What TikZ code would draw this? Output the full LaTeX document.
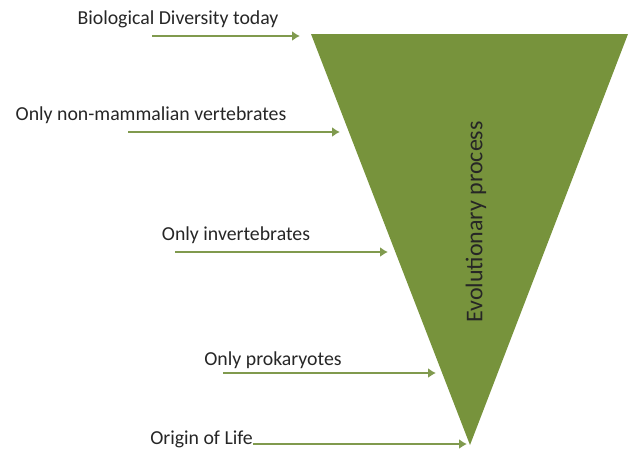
\documentclass[tikz,border=0pt]{standalone}
\usepackage{fontspec}
\setmainfont{Carlito}
\usetikzlibrary{arrows.meta}
\definecolor{olive}{RGB}{119,147,60}
\definecolor{arrowgreen}{RGB}{128,154,78}
\begin{document}
\begin{tikzpicture}[x=1pt,y=-1pt,
  lbl/.style={font=\fontsize{19.8}{23}\selectfont, text=black!85, inner sep=0pt},
  arr/.style={draw=arrowgreen, line width=2.8pt, -{Latex[length=8pt,width=10pt]}}]
\useasboundingbox (0,0) rectangle (631,451);
% triangle
\fill[olive] (311,34) -- (628,34) -- (470,445) -- cycle;
\node[lbl, font=\fontsize{24}{28}\selectfont, rotate=90] (evo) at (476,222) {Evolutionary process};
% labels
\node[lbl] (l1) at (178,19) {Biological Diversity today};
\node[lbl] (l2) at (151,115) {Only non-mammalian vertebrates};
\node[lbl] (l3) at (236,235) {Only invertebrates};
\node[lbl] (l4) at (273,360) {Only prokaryotes};
\node[lbl, anchor=east] (l5) at (253,439) {Origin of Life};
% arrow endpoints
\coordinate (s1) at (152,36); \coordinate (e1) at (300,36);
\coordinate (s2) at (128,132); \coordinate (e2) at (340,132);
\coordinate (s3) at (175,252); \coordinate (e3) at (388,252);
\coordinate (s4) at (223,373); \coordinate (e4) at (436,373);
\coordinate (s5) at (253,444); \coordinate (e5) at (467,444);
\draw[arr] (s1) -- (e1);
\draw[arr] (s2) -- (e2);
\draw[arr] (s3) -- (e3);
\draw[arr] (s4) -- (e4);
\draw[arr] (s5) -- (e5);
\end{tikzpicture}
\end{document}
